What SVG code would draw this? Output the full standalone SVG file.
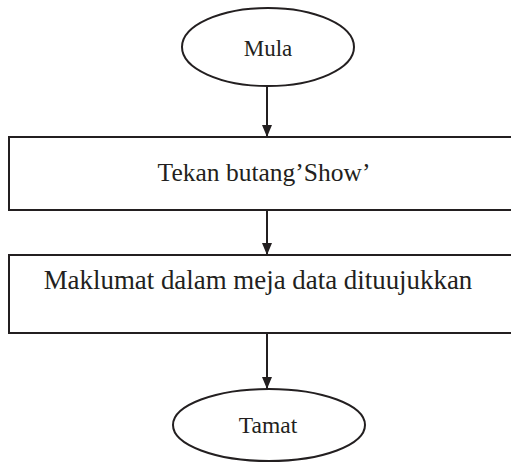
<svg xmlns="http://www.w3.org/2000/svg" width="511" height="463" viewBox="0 0 511 463">
<style>
.s{fill:#fff;stroke:#231f20;stroke-width:2}
.t{font-family:"Liberation Serif","Times New Roman",serif;fill:#231f20;text-anchor:middle}
.c{stroke:#231f20;stroke-width:2;fill:none;marker-end:url(#ah)}
</style>
<defs>
<marker id="ah" markerWidth="12" markerHeight="10" refX="12" refY="5" orient="auto" markerUnits="userSpaceOnUse" viewBox="0 0 12 10">
<path d="M0,0 L12,5 L0,10 Z" fill="#231f20"/>
</marker>
</defs>
<rect width="511" height="463" fill="#fff"/>
<g id="connectors">
<line class="c" x1="267" y1="86" x2="267" y2="137"/>
<line class="c" x1="267" y1="210" x2="267" y2="255"/>
<line class="c" x1="267" y1="333" x2="267" y2="389"/>
</g>
<g id="mula">
<ellipse class="s" cx="268" cy="47" rx="86" ry="39"/>
<text class="t" x="268" y="56" font-size="23">Mula</text>
</g>
<g id="tekan">
<rect class="s" x="9" y="137" width="510" height="73"/>
<text class="t" x="264" y="181" font-size="25.5">Tekan butang’Show’</text>
</g>
<g id="maklumat">
<rect class="s" x="9" y="255" width="510" height="78"/>
<text class="t" x="258" y="289" font-size="26.9">Maklumat dalam meja data dituujukkan</text>
</g>
<g id="tamat">
<ellipse class="s" cx="269" cy="425" rx="96" ry="36"/>
<text class="t" x="268" y="433" font-size="23.5">Tamat</text>
</g>
</svg>
